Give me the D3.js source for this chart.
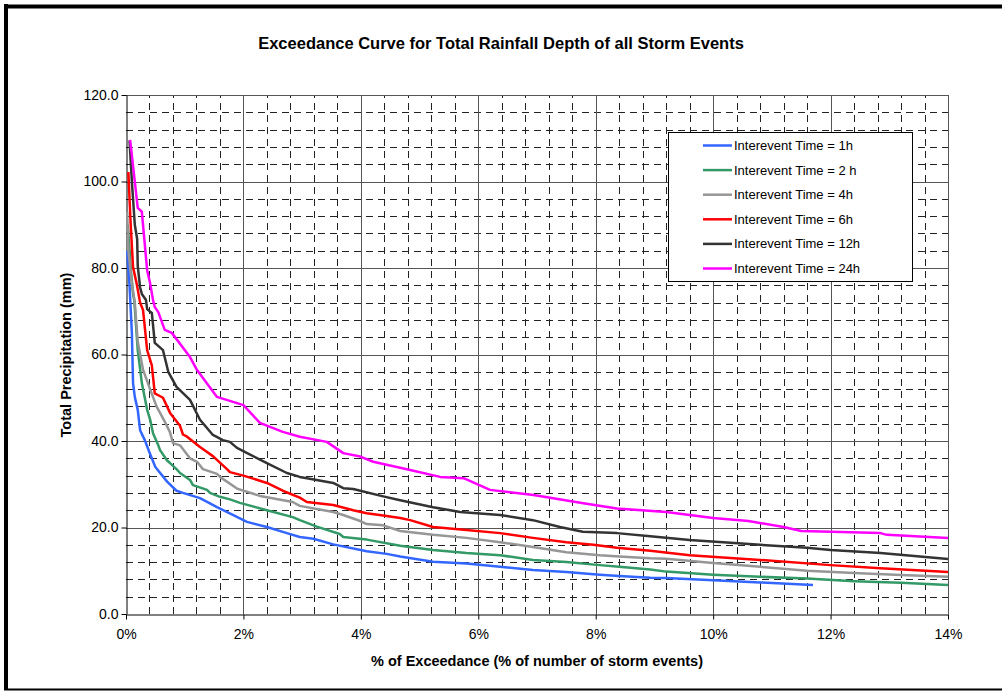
<!DOCTYPE html>
<html>
<head>
<meta charset="utf-8">
<script src="https://cdn.jsdelivr.net/npm/d3@7"></script>
<style>
  body { margin: 0; background: #fff; }
  svg { display: block; font-family: "Liberation Sans", Arial, sans-serif; }
</style>
</head>
<body>
<div id="chart"></div>
<script>
// series names + colours
const seriesNames = ["Interevent Time = 1h", "Interevent Time = 2 h", "Interevent Time = 4h",
                     "Interevent Time = 6h", "Interevent Time = 12h", "Interevent Time = 24h"]
const seriesColors = ["#3366ff", "#339966", "#969696", "#ff0000", "#333333", "#ff00ff"]

// values (x = % of exceedance, y = mm)
const pct1h = [0.02, 0.06, 0.1, 0.12, 0.15, 0.2, 0.24, 0.32, 0.41, 0.5, 0.7, 0.86, 0.97, 1.26, 1.55, 1.82, 2.06, 2.4, 2.74, 2.96, 3.19, 3.53, 4.1, 4.44, 4.67, 5.23, 5.8, 6.37, 6.93, 7.5, 8.07, 8.4, 8.93, 9.2, 10.0, 10.8, 11.7]
const val1h = [84, 76, 65, 53.4, 50.2, 47.2, 42.5, 40.2, 37, 34, 30.6, 28.5, 28, 26.8, 24.7, 22.9, 21.3, 20.1, 18.7, 17.8, 17.4, 16.1, 14.5, 13.9, 13.3, 12.1, 11.7, 10.9, 10.2, 9.7, 9.1, 8.8, 8.4, 8.3, 7.8, 7.3, 6.7]

const pct2h = [0.03, 0.08, 0.12, 0.14, 0.2, 0.27, 0.36, 0.41, 0.46, 0.55, 0.58, 0.7, 0.75, 0.86, 0.92, 1.09, 1.14, 1.38, 1.43, 1.6, 1.77, 1.94, 2.4, 2.84, 2.96, 3.25, 3.64, 3.7, 4.1, 4.67, 5.23, 5.8, 6.37, 6.93, 7.5, 8.07, 8.4, 8.93, 9.2, 10.0, 10.8, 11.6, 12.4, 13.2, 14.0]
const val2h = [90, 80, 74, 72.6, 61, 53.4, 47.2, 45, 41.8, 39, 37.9, 35.5, 34.9, 33.5, 32.6, 31, 29.8, 28.7, 28, 27.1, 26.5, 25.7, 24, 22.4, 21.7, 20.2, 18.5, 17.8, 17.2, 15.8, 14.8, 14.1, 13.6, 12.5, 12, 11.3, 10.9, 10.3, 9.8, 9.1, 8.6, 8.2, 7.6, 7.2, 6.7]

const pct4h = [0.02, 0.04, 0.1, 0.15, 0.2, 0.29, 0.41, 0.52, 0.58, 0.66, 0.75, 0.8, 0.92, 1.09, 1.21, 1.31, 1.55, 1.6, 1.89, 2.28, 2.4, 2.84, 2.96, 3.53, 3.7, 3.99, 4.1, 4.38, 4.67, 5.23, 5.8, 6.37, 6.93, 7.5, 8.07, 8.4, 8.93, 9.2, 10.0, 10.8, 11.6, 12.4, 13.2, 14.0]
const val4h = [93, 84, 76.5, 72, 63, 56.5, 52, 48, 46.5, 44.5, 42, 39.5, 39, 36, 35.2, 33.5, 32.4, 31.7, 29, 27.3, 27, 25.9, 25, 23.6, 22.9, 21.5, 20.8, 20.5, 19.2, 18.3, 17.6, 16.6, 15.5, 14.3, 13.6, 13.3, 12.9, 12.8, 11.8, 10.9, 10, 9.5, 9, 8.6]

const pct6h = [0.04, 0.08, 0.12, 0.18, 0.24, 0.29, 0.36, 0.44, 0.49, 0.63, 0.75, 0.92, 0.97, 1.04, 1.26, 1.48, 1.72, 1.77, 2.0, 2.4, 2.67, 2.96, 3.08, 3.53, 3.87, 4.1, 4.38, 4.67, 4.84, 5.23, 5.8, 6.37, 6.93, 7.5, 7.96, 8.36, 8.93, 9.6, 10.8, 12.0, 12.85, 14.0]
const val6h = [102.2, 90, 80.2, 76.5, 72, 70.3, 61, 57.5, 51, 50, 46.5, 43.5, 41.5, 41, 38.6, 36.5, 33.5, 32.8, 32, 30.3, 28.5, 26.9, 25.9, 25.2, 24, 23.3, 22.8, 22.2, 21.7, 20.1, 19.4, 18.7, 17.6, 16.6, 16, 15.3, 14.6, 13.6, 12.5, 11.3, 10.6, 9.7]

const pct12h = [0.06, 0.1, 0.15, 0.19, 0.2, 0.24, 0.27, 0.34, 0.36, 0.44, 0.49, 0.63, 0.72, 0.86, 1.09, 1.26, 1.48, 1.65, 1.77, 1.89, 2.4, 2.74, 2.96, 3.08, 3.53, 3.7, 3.87, 4.38, 4.67, 5.23, 5.69, 6.37, 6.93, 7.39, 7.78, 8.36, 8.93, 9.6, 10.8, 11.6, 12.0, 12.85, 14.0]
const val12h = [109.5, 100, 90, 86.7, 80.5, 75.5, 74, 72.6, 70.5, 69.6, 62.7, 61, 56, 52.5, 49.5, 44.9, 41.4, 40.2, 39.8, 38.4, 34.9, 32.6, 31.7, 31.4, 30.3, 29.1, 28.9, 27.2, 26.3, 24.7, 23.6, 22.9, 21.7, 20.1, 19, 18.7, 18, 17.1, 16, 15.3, 14.8, 14.1, 12.7]

const pct24h = [0.07, 0.2, 0.27, 0.36, 0.41, 0.46, 0.49, 0.55, 0.66, 0.78, 1.09, 1.21, 1.55, 2.0, 2.28, 2.67, 2.96, 3.42, 3.7, 3.99, 4.21, 4.84, 5.35, 5.75, 6.2, 6.94, 7.79, 8.36, 9.2, 10.0, 10.6, 11.2, 11.5, 12.85, 12.96, 14.0]
const val24h = [109.6, 93.9, 93, 79.5, 76.5, 72.6, 71, 69.8, 65.7, 65, 59.4, 56.4, 50.2, 48.3, 44.2, 42.1, 41, 39.8, 37.2, 36.4, 35.2, 33.3, 31.7, 31.4, 28.7, 27.5, 25.6, 24.4, 23.6, 22.2, 21.5, 20.1, 19.2, 18.7, 18.3, 17.6]

const xTicks = [0, 2, 4, 6, 8, 10, 12, 14]
const yTicks = [0, 20, 40, 60, 80, 100, 120]

const allPct = [pct1h, pct2h, pct4h, pct6h, pct12h, pct24h]
const allVal = [val1h, val2h, val4h, val6h, val12h, val24h]

const W = 1002, H = 692
const svg = d3.select("#chart").append("svg")
  .attr("width", W).attr("height", H)

// outer chart frame
svg.append("line").attr("x1", 4).attr("x2", W).attr("y1", 6.5).attr("y2", 6.5)
  .attr("stroke", "#000").attr("stroke-width", 4)
svg.append("line").attr("x1", 6).attr("x2", 6).attr("y1", 4).attr("y2", 690)
  .attr("stroke", "#000").attr("stroke-width", 4)
svg.append("line").attr("x1", 4).attr("x2", W).attr("y1", 689.5).attr("y2", 689.5)
  .attr("stroke", "#000").attr("stroke-width", 2)

const x = d3.scaleLinear().domain([0, 14]).range([126, 948])
const y = d3.scaleLinear().domain([0, 120]).range([614, 95])

// minor dashed grid
const minorY = d3.range(4, 120, 4).filter(v => v % 20 !== 0)
const minorX = d3.range(1, 35).map(i => i * 0.4).filter(v => Math.abs(v / 2 - Math.round(v / 2)) > 0.01)

svg.append("g").selectAll("line").data(minorY).enter().append("line")
  .attr("x1", x(0)).attr("x2", x(14))
  .attr("y1", d => Math.round(y(d)) + 0.5).attr("y2", d => Math.round(y(d)) + 0.5)
  .attr("stroke", "#222").attr("stroke-dasharray", "7,5")

svg.append("g").selectAll("line").data(minorX).enter().append("line")
  .attr("y1", y(0)).attr("y2", y(120))
  .attr("x1", d => Math.round(x(d)) + 0.5).attr("x2", d => Math.round(x(d)) + 0.5)
  .attr("stroke", "#222").attr("stroke-dasharray", "7,5")

// major solid grid
svg.append("g").selectAll("line").data(yTicks.slice(1)).enter().append("line")
  .attr("x1", x(0)).attr("x2", x(14))
  .attr("y1", d => Math.round(y(d)) + 0.5).attr("y2", d => Math.round(y(d)) + 0.5)
  .attr("stroke", "#555")

svg.append("g").selectAll("line").data(xTicks.slice(1)).enter().append("line")
  .attr("y1", y(0)).attr("y2", y(120))
  .attr("x1", d => Math.round(x(d)) + 0.5).attr("x2", d => Math.round(x(d)) + 0.5)
  .attr("stroke", "#555")

// axes
const yAxis = svg.append("g")
  .attr("transform", "translate(" + (x(0) + 0.5) + ",0)")
  .call(d3.axisLeft(y).tickValues(yTicks).tickFormat(d3.format(".1f")).tickSize(5).tickSizeOuter(0))
const xAxis = svg.append("g")
  .attr("transform", "translate(0," + (y(0) + 0.5) + ")")
  .call(d3.axisBottom(x).tickValues(xTicks).tickFormat(d => d + "%").tickSize(5).tickSizeOuter(0))

yAxis.attr("font-family", null).attr("font-size", null)
xAxis.attr("font-family", null).attr("font-size", null)
yAxis.selectAll("text").style("font-size", "14px").attr("fill", "#000").attr("x", -8)
xAxis.selectAll("text").style("font-size", "14px").attr("fill", "#000").attr("y", 15)
yAxis.selectAll("line, path").attr("stroke", "#000")
xAxis.selectAll("line, path").attr("stroke", "#000")

// curves
const line = d3.line()
  .x(d => x(d[0]))
  .y(d => y(d[1]))

svg.append("g").selectAll("path")
  .data(allPct.map((p, i) => p.map((v, j) => [v, allVal[i][j]])))
  .enter()
  .append("path")
    .attr("d", line)
    .attr("fill", "none")
    .attr("stroke", (_, i) => seriesColors[i])
    .attr("stroke-width", 2.5)
    .attr("stroke-linejoin", "round")

// title + axis labels
svg.append("text")
  .attr("x", 501).attr("y", 49)
  .attr("text-anchor", "middle")
  .style("font-size", "16.5px").style("font-weight", "bold")
  .text("Exceedance Curve for Total Rainfall Depth of all Storm Events")

svg.append("text")
  .attr("x", 537).attr("y", 666)
  .attr("text-anchor", "middle")
  .style("font-size", "14.5px").style("font-weight", "bold")
  .text("% of Exceedance (% of number of storm events)")

svg.append("text")
  .attr("transform", "translate(71,355) rotate(-90)")
  .attr("text-anchor", "middle")
  .style("font-size", "14.5px").style("font-weight", "bold")
  .text("Total Precipitation (mm)")

// LEGEND //
const legend = svg.append("g").attr("transform", "translate(668,132)")
legend.append("rect")
  .attr("x", 0.5).attr("y", 0.5)
  .attr("width", 244).attr("height", 149)
  .attr("fill", "#fff").attr("stroke", "#000")

legend.selectAll("line.key").data(seriesNames).enter().append("line")
  .attr("class", "key")
  .attr("x1", 35).attr("x2", 64)
  .attr("y1", (_, i) => 13.5 + i * 24.6).attr("y2", (_, i) => 13.5 + i * 24.6)
  .attr("stroke", (_, i) => seriesColors[i])
  .attr("stroke-width", 2.5)

legend.selectAll("text").data(seriesNames).enter().append("text")
  .attr("x", 66)
  .attr("y", (_, i) => 13.5 + i * 24.6)
  .attr("dy", "0.35em")
  .style("font-size", "13px")
  .text(d => d)
</script>
</body>
</html>
